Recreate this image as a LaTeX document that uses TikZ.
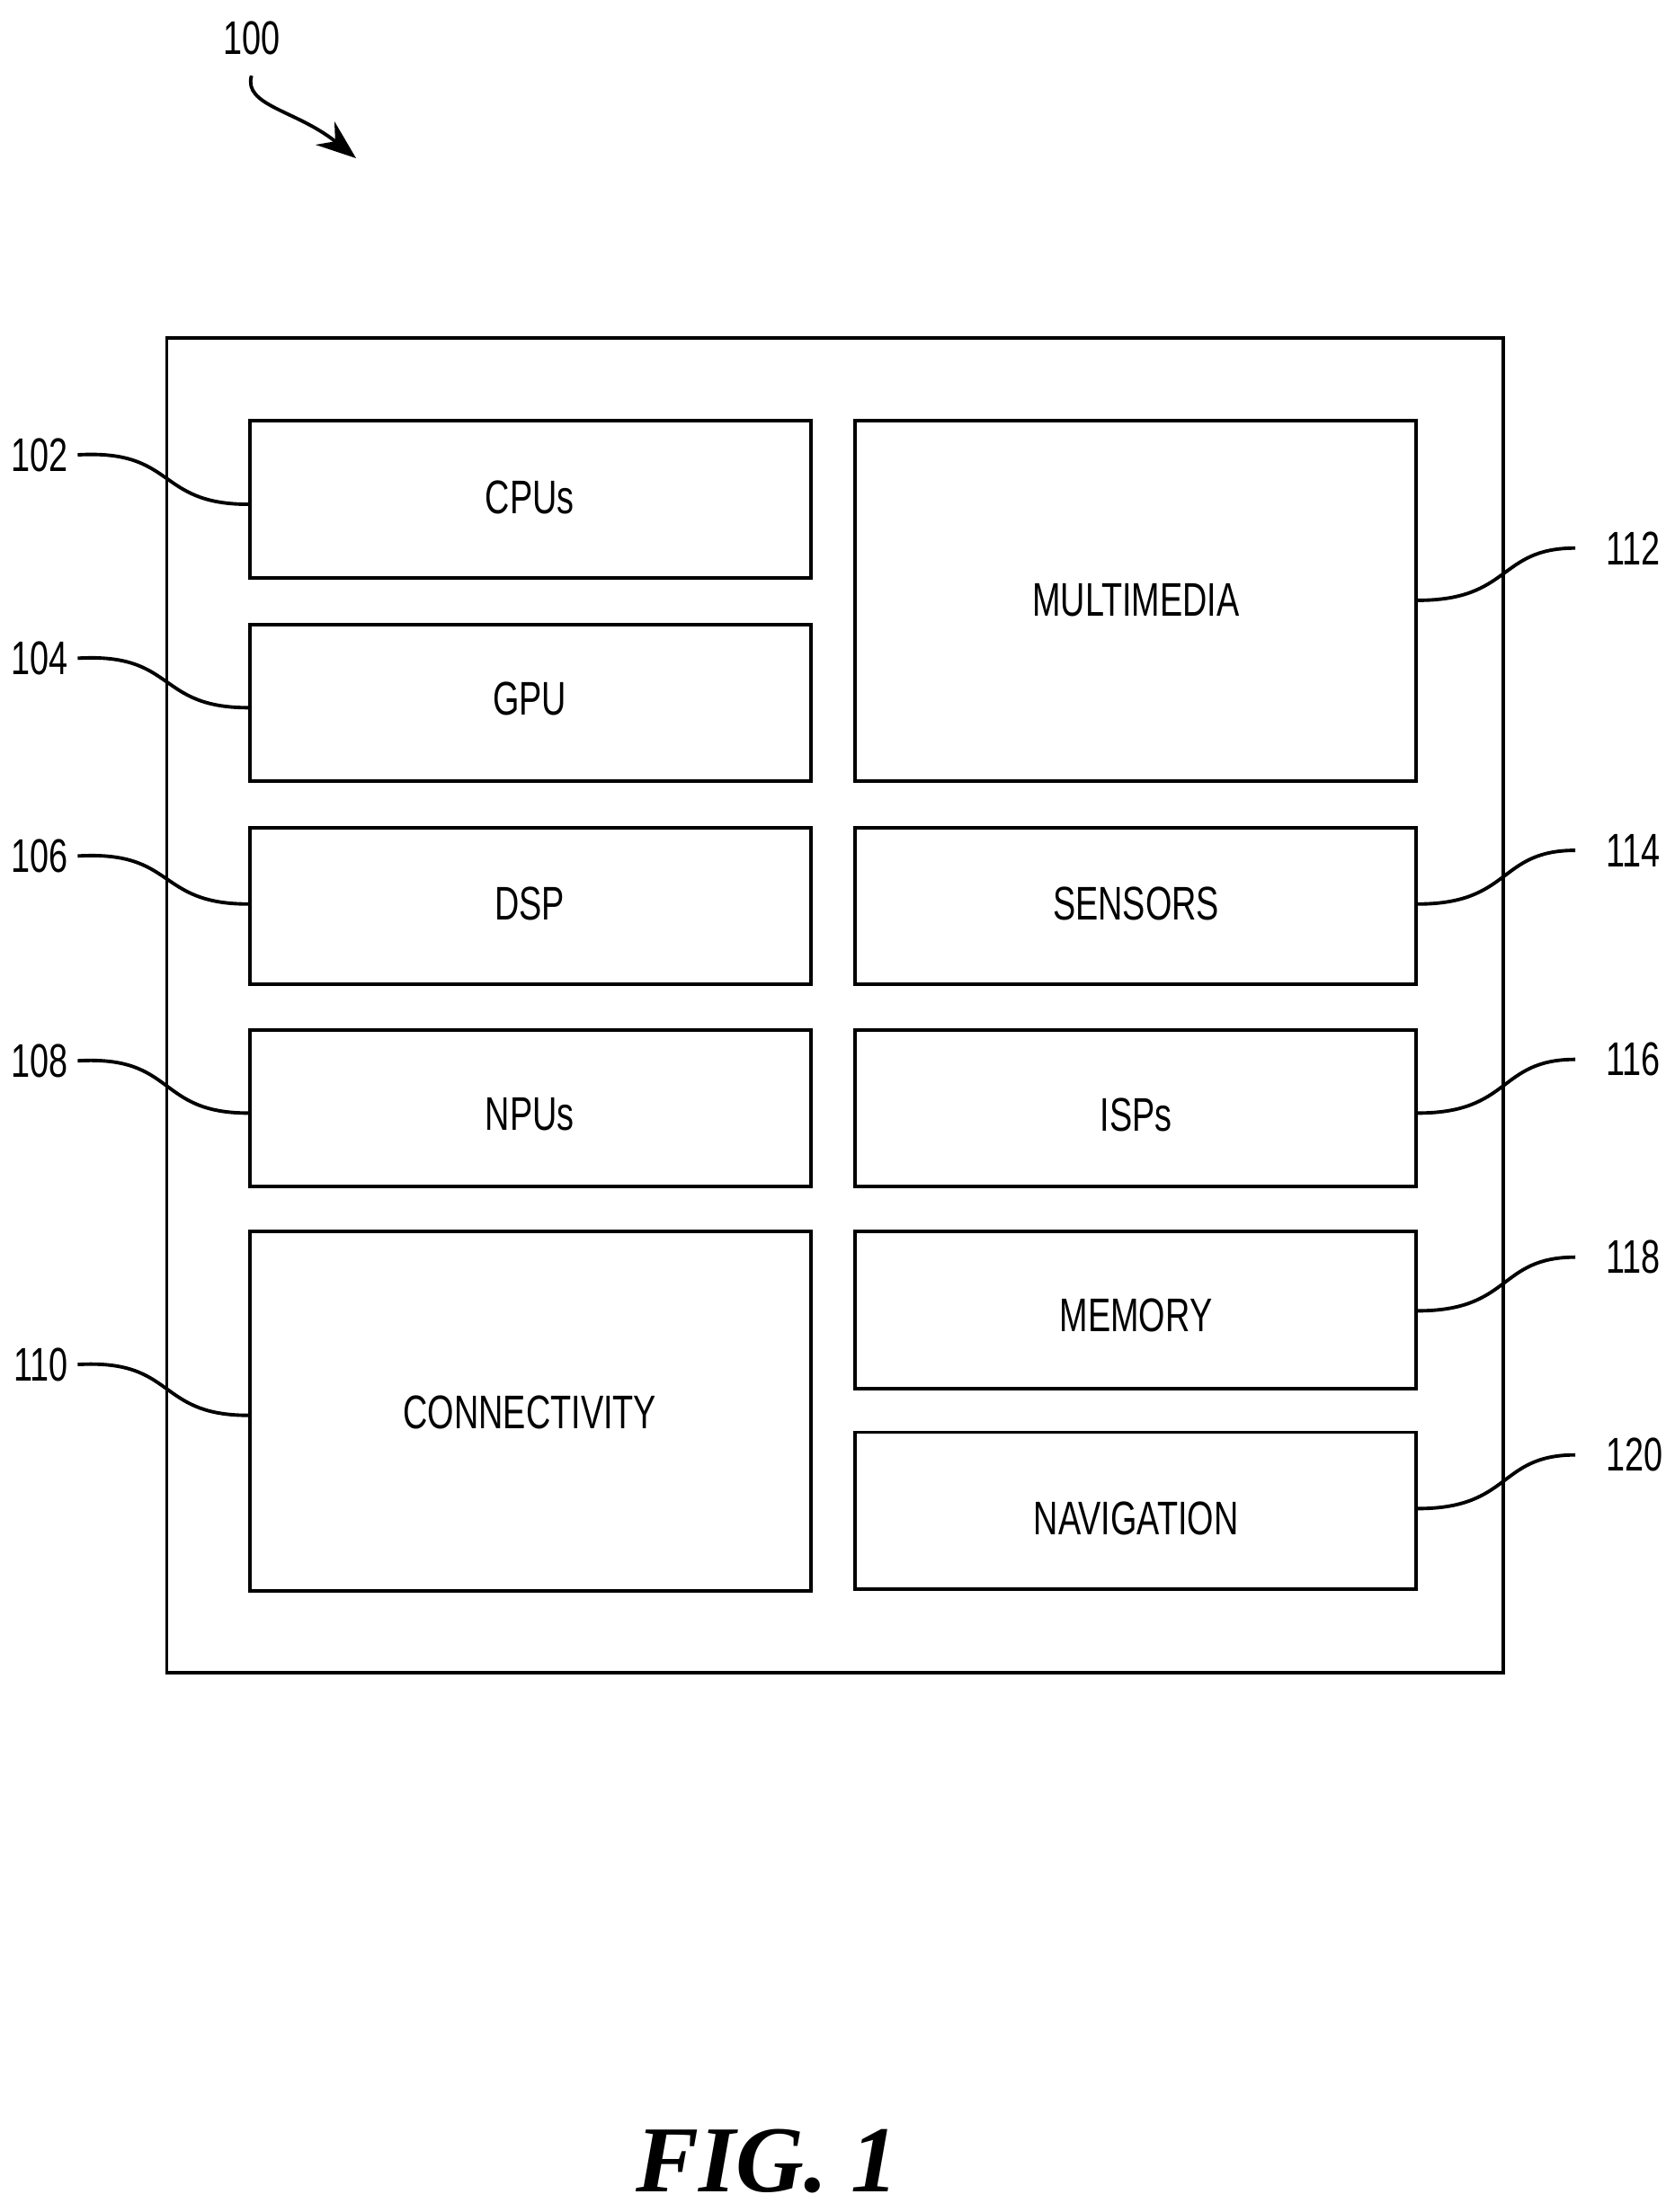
\documentclass[tikz,border=0pt]{standalone}
\usepackage{fontspec}
\setmainfont{Liberation Sans}[FakeStretch=0.72]
\newfontfamily\figfont{Liberation Serif}
\usetikzlibrary{arrows.meta}
\begin{document}
\begin{tikzpicture}[x=0.01cm,y=-0.01cm,
  blk/.style={draw,line width=0.7pt,inner sep=0pt},
  txt/.style={font=\fontsize{9.5}{11}\selectfont,inner sep=0pt},
  lead/.style={line width=0.7pt}]
\useasboundingbox (0,0) rectangle (1185,1566);
\draw[line width=0.7pt] (118,239) rectangle (1064,1184);
% boxes
\node[blk,minimum width=3.97cm,minimum height=1.11cm] (cpu) at (375.5,353.5) {};
\node[blk,minimum width=3.97cm,minimum height=1.11cm] (gpu) at (375.5,497.5) {};
\node[blk,minimum width=3.97cm,minimum height=1.11cm] (dsp) at (375.5,641.5) {};
\node[blk,minimum width=3.97cm,minimum height=1.11cm] (npu) at (375.5,784.5) {};
\node[blk,minimum width=3.97cm,minimum height=2.54cm] (con) at (375.5,999) {};
\node[blk,minimum width=3.97cm,minimum height=2.55cm] (mm) at (803.5,425.5) {};
\node[blk,minimum width=3.97cm,minimum height=1.11cm] (sen) at (803.5,641.5) {};
\node[blk,minimum width=3.97cm,minimum height=1.11cm] (isp) at (803.5,784.5) {};
\node[blk,minimum width=3.97cm,minimum height=1.11cm] (mem) at (803.5,927.5) {};
\node[blk,minimum width=3.97cm,minimum height=1.11cm] (nav) at (803.5,1069.5) {};
% texts
\node[txt] (tcpu) at (375,352) {CPUs};
\node[txt] (tgpu) at (375,495) {GPU};
\node[txt] (tdsp) at (375,640) {DSP};
\node[txt] (tnpu) at (375,789) {NPUs};
\node[txt] (tcon) at (375,1000) {CONNECTIVITY};
\node[txt] (tmm) at (804,425) {MULTIMEDIA};
\node[txt] (tsen) at (804,640) {SENSORS};
\node[txt] (tisp) at (804,789) {ISPs};
\node[txt] (tmem) at (804,931) {MEMORY};
\node[txt] (tnav) at (804,1075) {NAVIGATION};
% labels
\node[txt,anchor=east] (l102) at (49,322) {102};
\node[txt,anchor=east] (l104) at (49,466) {104};
\node[txt,anchor=east] (l106) at (49,606) {106};
\node[txt,anchor=east] (l108) at (49,751) {108};
\node[txt,anchor=east] (l110) at (49,966) {110};
\node[txt,anchor=west] (l112) at (1136,388) {112};
\node[txt,anchor=west] (l114) at (1136,602) {114};
\node[txt,anchor=west] (l116) at (1136,750) {116};
\node[txt,anchor=west] (l118) at (1136,890) {118};
\node[txt,anchor=west] (l120) at (1136,1030) {120};
\node[txt] (l100) at (178,27) {100};
\coordinate (a100) at (252,112);
\draw[lead] (l102.east)++(6,0) .. controls (125,318) and (110,357) .. (cpu.west|-0,357);
\draw[lead] (l104.east)++(6,0) .. controls (125,462) and (110,501) .. (gpu.west|-0,501);
\draw[lead] (l106.east)++(6,0) .. controls (125,602) and (110,640) .. (dsp.west|-0,640);
\draw[lead] (l108.east)++(6,0) .. controls (125,747) and (110,788) .. (npu.west|-0,788);
\draw[lead] (l110.east)++(6,0) .. controls (125,962) and (110,1002) .. (con.west|-0,1002);
\draw[lead] (mm.east|-0,425) .. controls (1070,425) and (1060,388) .. ([xshift=-6]l112.west);
\draw[lead] (sen.east|-0,640) .. controls (1070,640) and (1060,602) .. ([xshift=-6]l114.west);
\draw[lead] (isp.east|-0,788) .. controls (1070,788) and (1060,750) .. ([xshift=-6]l116.west);
\draw[lead] (mem.east|-0,928) .. controls (1070,928) and (1060,890) .. ([xshift=-6]l118.west);
\draw[lead] (nav.east|-0,1068) .. controls (1070,1068) and (1060,1030) .. ([xshift=-6]l120.west);
\draw[lead,-{Stealth[length=8pt,width=6pt]}] ([yshift=-4pt]l100.south) .. controls (172,75) and (210,78) .. (a100);
\node[inner sep=0pt,font=\figfont\fontsize{19}{22}\selectfont\bfseries\itshape] (fig) at (543,1530) {FIG. 1};
\end{tikzpicture}
\end{document}
